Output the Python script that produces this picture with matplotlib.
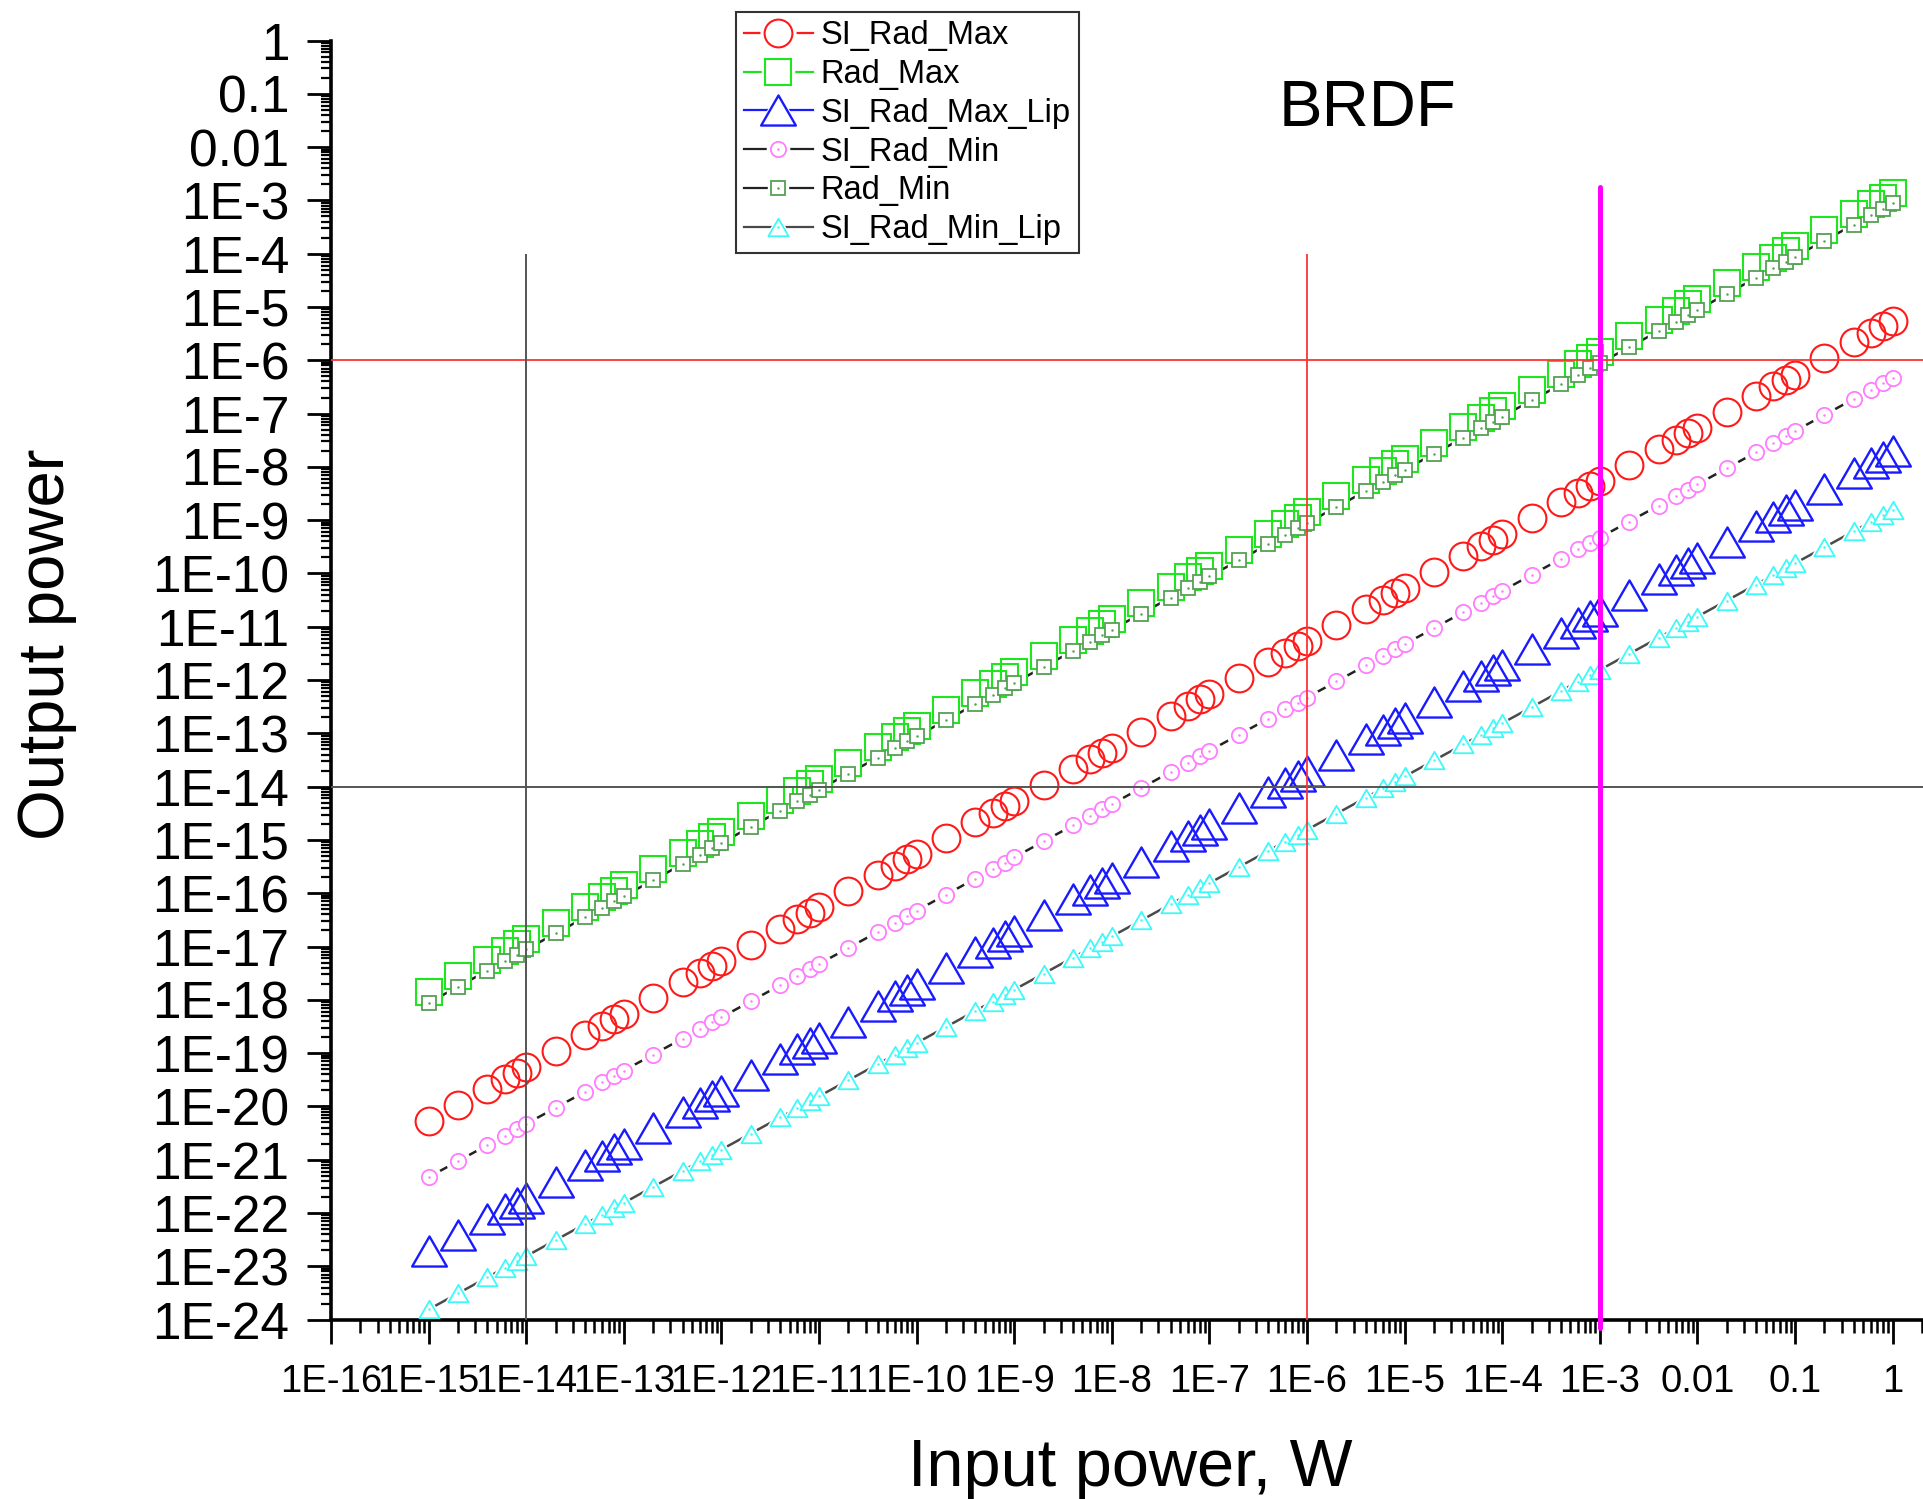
import numpy as np
import matplotlib
matplotlib.use('Agg')
import matplotlib.pyplot as plt
from matplotlib.lines import Line2D
from matplotlib.path import Path
from matplotlib.ticker import FixedLocator, FixedFormatter, LogLocator, NullFormatter

plt.rcParams['font.family'] = ['Liberation Sans', 'DejaVu Sans']

# ---- data (1, 2, 4, 6, 8 of each decade, then 1 W) ----
input_power = [
    1e-15, 2e-15, 4e-15, 6e-15, 8e-15,
    1e-14, 2e-14, 4e-14, 6e-14, 8e-14,
    1e-13, 2e-13, 4e-13, 6e-13, 8e-13,
    1e-12, 2e-12, 4e-12, 6e-12, 8e-12,
    1e-11, 2e-11, 4e-11, 6e-11, 8e-11,
    1e-10, 2e-10, 4e-10, 6e-10, 8e-10,
    1e-9, 2e-9, 4e-9, 6e-9, 8e-9,
    1e-8, 2e-8, 4e-8, 6e-8, 8e-8,
    1e-7, 2e-7, 4e-7, 6e-7, 8e-7,
    1e-6, 2e-6, 4e-6, 6e-6, 8e-6,
    1e-5, 2e-5, 4e-5, 6e-5, 8e-5,
    1e-4, 2e-4, 4e-4, 6e-4, 8e-4,
    1e-3, 2e-3, 4e-3, 6e-3, 8e-3,
    0.01, 0.02, 0.04, 0.06, 0.08,
    0.1, 0.2, 0.4, 0.6, 0.8,
    1.0,
]

si_rad_max = [
    5.4e-21, 1.08e-20, 2.16e-20, 3.24e-20, 4.32e-20,
    5.4e-20, 1.08e-19, 2.16e-19, 3.24e-19, 4.32e-19,
    5.4e-19, 1.08e-18, 2.16e-18, 3.24e-18, 4.32e-18,
    5.4e-18, 1.08e-17, 2.16e-17, 3.24e-17, 4.32e-17,
    5.4e-17, 1.08e-16, 2.16e-16, 3.24e-16, 4.32e-16,
    5.4e-16, 1.08e-15, 2.16e-15, 3.24e-15, 4.32e-15,
    5.4e-15, 1.08e-14, 2.16e-14, 3.24e-14, 4.32e-14,
    5.4e-14, 1.08e-13, 2.16e-13, 3.24e-13, 4.32e-13,
    5.4e-13, 1.08e-12, 2.16e-12, 3.24e-12, 4.32e-12,
    5.4e-12, 1.08e-11, 2.16e-11, 3.24e-11, 4.32e-11,
    5.4e-11, 1.08e-10, 2.16e-10, 3.24e-10, 4.32e-10,
    5.4e-10, 1.08e-9, 2.16e-9, 3.24e-9, 4.32e-9,
    5.4e-9, 1.08e-8, 2.16e-8, 3.24e-8, 4.32e-8,
    5.4e-8, 1.08e-7, 2.16e-7, 3.24e-7, 4.32e-7,
    5.4e-7, 1.08e-6, 2.16e-6, 3.24e-6, 4.32e-6,
    5.4e-6,
]

rad_max = [
    1.4e-18, 2.8e-18, 5.6e-18, 8.4e-18, 1.12e-17,
    1.4e-17, 2.8e-17, 5.6e-17, 8.4e-17, 1.12e-16,
    1.4e-16, 2.8e-16, 5.6e-16, 8.4e-16, 1.12e-15,
    1.4e-15, 2.8e-15, 5.6e-15, 8.4e-15, 1.12e-14,
    1.4e-14, 2.8e-14, 5.6e-14, 8.4e-14, 1.12e-13,
    1.4e-13, 2.8e-13, 5.6e-13, 8.4e-13, 1.12e-12,
    1.4e-12, 2.8e-12, 5.6e-12, 8.4e-12, 1.12e-11,
    1.4e-11, 2.8e-11, 5.6e-11, 8.4e-11, 1.12e-10,
    1.4e-10, 2.8e-10, 5.6e-10, 8.4e-10, 1.12e-9,
    1.4e-9, 2.8e-9, 5.6e-9, 8.4e-9, 1.12e-8,
    1.4e-8, 2.8e-8, 5.6e-8, 8.4e-8, 1.12e-7,
    1.4e-7, 2.8e-7, 5.6e-7, 8.4e-7, 1.12e-6,
    1.4e-6, 2.8e-6, 5.6e-6, 8.4e-6, 1.12e-5,
    1.4e-5, 2.8e-5, 5.6e-5, 8.4e-5, 1.12e-4,
    1.4e-4, 2.8e-4, 5.6e-4, 8.4e-4, 1.12e-3,
    1.4e-3,
]

si_rad_max_lip = [
    1.95e-23, 3.9e-23, 7.8e-23, 1.17e-22, 1.56e-22,
    1.95e-22, 3.9e-22, 7.8e-22, 1.17e-21, 1.56e-21,
    1.95e-21, 3.9e-21, 7.8e-21, 1.17e-20, 1.56e-20,
    1.95e-20, 3.9e-20, 7.8e-20, 1.17e-19, 1.56e-19,
    1.95e-19, 3.9e-19, 7.8e-19, 1.17e-18, 1.56e-18,
    1.95e-18, 3.9e-18, 7.8e-18, 1.17e-17, 1.56e-17,
    1.95e-17, 3.9e-17, 7.8e-17, 1.17e-16, 1.56e-16,
    1.95e-16, 3.9e-16, 7.8e-16, 1.17e-15, 1.56e-15,
    1.95e-15, 3.9e-15, 7.8e-15, 1.17e-14, 1.56e-14,
    1.95e-14, 3.9e-14, 7.8e-14, 1.17e-13, 1.56e-13,
    1.95e-13, 3.9e-13, 7.8e-13, 1.17e-12, 1.56e-12,
    1.95e-12, 3.9e-12, 7.8e-12, 1.17e-11, 1.56e-11,
    1.95e-11, 3.9e-11, 7.8e-11, 1.17e-10, 1.56e-10,
    1.95e-10, 3.9e-10, 7.8e-10, 1.17e-9, 1.56e-9,
    1.95e-9, 3.9e-9, 7.8e-9, 1.17e-8, 1.56e-8,
    1.95e-8,
]

si_rad_min = [
    4.7e-22, 9.4e-22, 1.88e-21, 2.82e-21, 3.76e-21,
    4.7e-21, 9.4e-21, 1.88e-20, 2.82e-20, 3.76e-20,
    4.7e-20, 9.4e-20, 1.88e-19, 2.82e-19, 3.76e-19,
    4.7e-19, 9.4e-19, 1.88e-18, 2.82e-18, 3.76e-18,
    4.7e-18, 9.4e-18, 1.88e-17, 2.82e-17, 3.76e-17,
    4.7e-17, 9.4e-17, 1.88e-16, 2.82e-16, 3.76e-16,
    4.7e-16, 9.4e-16, 1.88e-15, 2.82e-15, 3.76e-15,
    4.7e-15, 9.4e-15, 1.88e-14, 2.82e-14, 3.76e-14,
    4.7e-14, 9.4e-14, 1.88e-13, 2.82e-13, 3.76e-13,
    4.7e-13, 9.4e-13, 1.88e-12, 2.82e-12, 3.76e-12,
    4.7e-12, 9.4e-12, 1.88e-11, 2.82e-11, 3.76e-11,
    4.7e-11, 9.4e-11, 1.88e-10, 2.82e-10, 3.76e-10,
    4.7e-10, 9.4e-10, 1.88e-9, 2.82e-9, 3.76e-9,
    4.7e-9, 9.4e-9, 1.88e-8, 2.82e-8, 3.76e-8,
    4.7e-8, 9.4e-8, 1.88e-7, 2.82e-7, 3.76e-7,
    4.7e-7,
]

rad_min = [
    8.8e-19, 1.76e-18, 3.52e-18, 5.28e-18, 7.04e-18,
    8.8e-18, 1.76e-17, 3.52e-17, 5.28e-17, 7.04e-17,
    8.8e-17, 1.76e-16, 3.52e-16, 5.28e-16, 7.04e-16,
    8.8e-16, 1.76e-15, 3.52e-15, 5.28e-15, 7.04e-15,
    8.8e-15, 1.76e-14, 3.52e-14, 5.28e-14, 7.04e-14,
    8.8e-14, 1.76e-13, 3.52e-13, 5.28e-13, 7.04e-13,
    8.8e-13, 1.76e-12, 3.52e-12, 5.28e-12, 7.04e-12,
    8.8e-12, 1.76e-11, 3.52e-11, 5.28e-11, 7.04e-11,
    8.8e-11, 1.76e-10, 3.52e-10, 5.28e-10, 7.04e-10,
    8.8e-10, 1.76e-9, 3.52e-9, 5.28e-9, 7.04e-9,
    8.8e-9, 1.76e-8, 3.52e-8, 5.28e-8, 7.04e-8,
    8.8e-8, 1.76e-7, 3.52e-7, 5.28e-7, 7.04e-7,
    8.8e-7, 1.76e-6, 3.52e-6, 5.28e-6, 7.04e-6,
    8.8e-6, 1.76e-5, 3.52e-5, 5.28e-5, 7.04e-5,
    8.8e-5, 1.76e-4, 3.52e-4, 5.28e-4, 7.04e-4,
    8.8e-4,
]

si_rad_min_lip = [
    1.55e-24, 3.1e-24, 6.2e-24, 9.3e-24, 1.24e-23,
    1.55e-23, 3.1e-23, 6.2e-23, 9.3e-23, 1.24e-22,
    1.55e-22, 3.1e-22, 6.2e-22, 9.3e-22, 1.24e-21,
    1.55e-21, 3.1e-21, 6.2e-21, 9.3e-21, 1.24e-20,
    1.55e-20, 3.1e-20, 6.2e-20, 9.3e-20, 1.24e-19,
    1.55e-19, 3.1e-19, 6.2e-19, 9.3e-19, 1.24e-18,
    1.55e-18, 3.1e-18, 6.2e-18, 9.3e-18, 1.24e-17,
    1.55e-17, 3.1e-17, 6.2e-17, 9.3e-17, 1.24e-16,
    1.55e-16, 3.1e-16, 6.2e-16, 9.3e-16, 1.24e-15,
    1.55e-15, 3.1e-15, 6.2e-15, 9.3e-15, 1.24e-14,
    1.55e-14, 3.1e-14, 6.2e-14, 9.3e-14, 1.24e-13,
    1.55e-13, 3.1e-13, 6.2e-13, 9.3e-13, 1.24e-12,
    1.55e-12, 3.1e-12, 6.2e-12, 9.3e-12, 1.24e-11,
    1.55e-11, 3.1e-11, 6.2e-11, 9.3e-11, 1.24e-10,
    1.55e-10, 3.1e-10, 6.2e-10, 9.3e-10, 1.24e-9,
    1.55e-9,
]

x_ticks = [1e-16, 1e-15, 1e-14, 1e-13, 1e-12, 1e-11, 1e-10, 1e-9, 1e-8,
           1e-7, 1e-6, 1e-5, 1e-4, 1e-3, 0.01, 0.1, 1]
x_tick_labels = ['1E-16', '1E-15', '1E-14', '1E-13', '1E-12', '1E-11', '1E-10',
                 '1E-9', '1E-8', '1E-7', '1E-6', '1E-5', '1E-4', '1E-3',
                 '0.01', '0.1', '1']
y_ticks = [1e-24, 1e-23, 1e-22, 1e-21, 1e-20, 1e-19, 1e-18, 1e-17, 1e-16,
           1e-15, 1e-14, 1e-13, 1e-12, 1e-11, 1e-10, 1e-9, 1e-8, 1e-7,
           1e-6, 1e-5, 1e-4, 1e-3, 0.01, 0.1, 1]
y_tick_labels = ['1E-24', '1E-23', '1E-22', '1E-21', '1E-20', '1E-19', '1E-18',
                 '1E-17', '1E-16', '1E-15', '1E-14', '1E-13', '1E-12', '1E-11',
                 '1E-10', '1E-9', '1E-8', '1E-7', '1E-6', '1E-5', '1E-4',
                 '1E-3', '0.01', '0.1', '1']

# guide lines: level lines across, and limit lines up from the x axis
h_lines = [1e-6, 1e-14]
v_lines = [1e-14, 1e-6, 1e-3]
v_tops = [1e-4, 1e-4, 1.8e-3]

# ---- styles ----
tri = Path([(-0.5, -0.433), (0.5, -0.433), (0.0, 0.433), (-0.5, -0.433)],
           [Path.MOVETO, Path.LINETO, Path.LINETO, Path.CLOSEPOLY])

# name, values, marker, size, colour, edge width
max_series = [('SI_Rad_Max', si_rad_max, 'o', 20, '#ff1a1a', 1.5),
              ('Rad_Max', rad_max, 's', 18.5, '#1ee61e', 1.5),
              ('SI_Rad_Max_Lip', si_rad_max_lip, tri, 25, '#1a1aff', 1.7)]
# name, values, marker, size, colour, line colour
min_series = [('SI_Rad_Min', si_rad_min, 'o', 11, '#ff7cff', '#222222'),
              ('Rad_Min', rad_min, 's', 10, '#55a055', '#222222'),
              ('SI_Rad_Min_Lip', si_rad_min_lip, tri, 14.5, '#3dfafa', '#4a4a4a')]

fig = plt.figure(figsize=(19.23, 14.99), dpi=100)
ax = fig.add_axes([331 / 1923, 1 - 1319.6 / 1499, 1 - 331 / 1923, (1319.6 - 40.5) / 1499])
ax.set_xscale('log')
ax.set_yscale('log')

handles = {}
for name, vals, mk, ms, col, mew in max_series:
    ax.plot(input_power, vals, ls='none', marker=mk, ms=ms, mfc='none',
            mec=col, mew=mew, zorder=3)
    handles[name] = (Line2D([], [], color=col, lw=1.6),
                     Line2D([], [], ls='none', marker=mk, ms=ms + 5, mfc='white', mec='white'),
                     Line2D([], [], ls='none', marker=mk, ms=ms, mfc='none', mec=col, mew=mew))

for name, vals, mk, ms, col, lcol in min_series:
    ax.plot(input_power, vals, color=lcol, lw=1.8, zorder=2)
    ax.plot(input_power, vals, ls='none', marker=mk, ms=ms + 6, mfc='white',
            mec='white', zorder=2.5)
    ax.plot(input_power, vals, ls='none', marker=mk, ms=ms, mfc='white',
            mec=col, mew=1.3, zorder=4)
    ax.plot(input_power, vals, ls='none', marker='o', ms=1.8, mfc=col,
            mec='none', zorder=4.5)
    handles[name] = (Line2D([], [], color=lcol, lw=1.6),
                     Line2D([], [], ls='none', marker=mk, ms=ms + 5, mfc='white', mec='white'),
                     Line2D([], [], ls='none', marker=mk, ms=ms, mfc='white', mec=col, mew=1.3),
                     Line2D([], [], ls='none', marker='o', ms=1.8, mfc=col, mec='none'))

ax.axhline(h_lines[0], color='#ff3333', lw=1.3, zorder=5)
ax.axhline(h_lines[1], color='#555555', lw=1.4, zorder=5)
ax.vlines(v_lines[0], 1e-24, v_tops[0], color='#555555', lw=1.4, zorder=5)
ax.vlines(v_lines[1], 1e-24, v_tops[1], color='#ff3333', lw=1.3, zorder=5)
ax.plot([v_lines[2], v_lines[2]], [10 ** -24.15, v_tops[2]], color='#ff00ff', lw=3.6,
        solid_capstyle='round', clip_on=False, zorder=5)

ax.set_xlim(1e-16, 2.05)
ax.set_ylim(1e-24, 1)

ax.xaxis.set_major_locator(FixedLocator(x_ticks))
ax.xaxis.set_major_formatter(FixedFormatter(x_tick_labels))
ax.yaxis.set_major_locator(FixedLocator(y_ticks))
ax.yaxis.set_major_formatter(FixedFormatter(y_tick_labels))
for axis in (ax.xaxis, ax.yaxis):
    axis.set_minor_locator(LogLocator(base=10, subs=np.arange(2, 10), numticks=200))
    axis.set_minor_formatter(NullFormatter())

ax.tick_params(axis='both', which='major', direction='out', length=17, width=2, color='black')
ax.tick_params(axis='x', which='minor', direction='out', length=9, width=1.8)
ax.tick_params(axis='y', which='minor', direction='out', length=7.5, width=1.6)
ax.tick_params(axis='x', which='major', labelsize=27.5, pad=15)
ax.tick_params(axis='y', which='major', labelsize=37, pad=13)

ax.spines['top'].set_visible(False)
ax.spines['right'].set_visible(False)
ax.spines['left'].set_linewidth(2.6)
ax.spines['bottom'].set_linewidth(2.6)

order = ['SI_Rad_Max', 'Rad_Max', 'SI_Rad_Max_Lip', 'SI_Rad_Min', 'Rad_Min', 'SI_Rad_Min_Lip']
leg = ax.legend([handles[n] for n in order], order, loc='upper left',
                bbox_to_anchor=(736 / 1923, 1 - 12 / 1499), bbox_transform=fig.transFigure,
                fontsize=23.5, frameon=True, fancybox=False, edgecolor='#333333',
                framealpha=1, borderpad=0.25, labelspacing=0.24, handlelength=2.1,
                handletextpad=0.25, borderaxespad=0, numpoints=1)
leg.get_frame().set_linewidth(1.5)
leg.set_zorder(10)

fig.text(0.711, 0.916, 'BRDF', ha='center', va='baseline', fontsize=47)
fig.text(0.0244, 0.5704, 'Output power', rotation=90, ha='center', va='center', fontsize=47)
fig.text(0.5877, 0.0087, 'Input power, W', ha='center', va='baseline', fontsize=48)

fig.savefig('out.png', dpi=100)
